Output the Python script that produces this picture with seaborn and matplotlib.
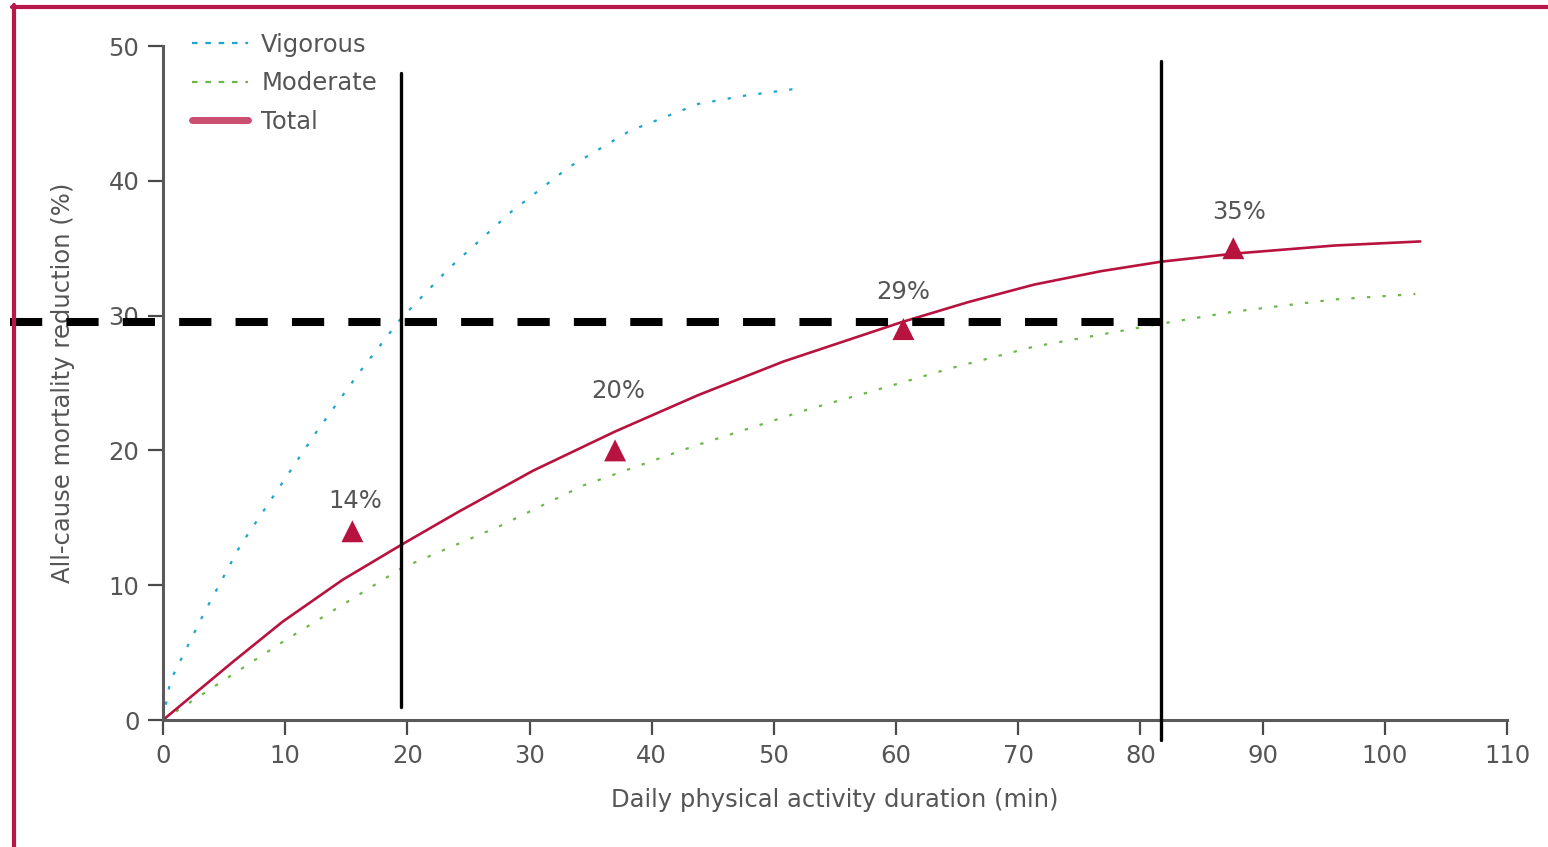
import matplotlib
matplotlib.use("Agg")
import matplotlib.pyplot as plt
from matplotlib.lines import Line2D
import seaborn as sns

sns.set_style("ticks")
plt.rcParams["font.family"] = ["DejaVu Sans"]
plt.rcParams["font.size"] = 17.5

# ==== Donnees ====
vig_x = [0, 0.6, 3.4, 6.3, 9.4, 12.5, 16.0, 19.4, 23.4, 28.5, 33.2, 38.2, 43.8, 47.5, 51.6]
vig_y = [0, 2.9, 8.0, 12.9, 17.1, 21.3, 25.7, 29.7, 33.5, 37.7, 41.0, 43.7, 45.7, 46.3, 46.8]

mod_x = [0, 9.8, 19.6, 27.6, 34.4, 43.4, 53.0, 57.7, 64.5, 71.3, 81.7, 87.7, 95.9, 102.5]
mod_y = [0, 5.8, 11.3, 14.4, 17.4, 20.3, 23.1, 24.3, 26.1, 27.7, 29.4, 30.3, 31.2, 31.6]

tot_x = [0, 5.7, 9.8, 14.7, 19.7, 24.1, 30.3, 37.0, 43.8, 50.8, 60.4, 65.9, 71.3,
         76.8, 81.7, 87.7, 95.9, 102.9]
tot_y = [0, 4.3, 7.3, 10.4, 13.1, 15.4, 18.5, 21.4, 24.1, 26.6, 29.5, 31.0, 32.3,
         33.3, 34.0, 34.6, 35.2, 35.5]

tri_x = [15.5, 37.0, 60.6, 87.6]
tri_y = [14, 20, 29, 35]

thresh_x = [19.5, 81.7]   # minutes
thresh_y = 29.5           # % reduction

x_ticks = list(range(0, 111, 10))
y_ticks = list(range(0, 51, 10))

# styles
CYAN = "#1ba5cf"
GREEN = "#6cb847"
CRIMSON = "#b8123f"
GREY = "#555555"
label_offsets = [(2, 22), (2, 43), (0, 27), (4, 26)]

fig = plt.figure(figsize=(15.48, 8.47), dpi=100)
ax = fig.add_axes([163 / 1548, 127 / 847, 1344 / 1548, 674 / 847])

dots = (0, (1.5, 5.5))
sns.lineplot(x=vig_x, y=vig_y, ax=ax, color=CYAN, lw=1.6, linestyle=dots,
             sort=False, estimator=None, label="Vigorous")
sns.lineplot(x=mod_x, y=mod_y, ax=ax, color=GREEN, lw=1.6, linestyle=dots,
             sort=False, estimator=None, label="Moderate")
sns.lineplot(x=tot_x, y=tot_y, ax=ax, color=CRIMSON, lw=1.9,
             sort=False, estimator=None, label="Total")

sns.scatterplot(x=tri_x, y=tri_y, ax=ax, marker="^", s=250, color=CRIMSON,
                edgecolor="none", zorder=5, legend=False)
for x, y, off in zip(tri_x, tri_y, label_offsets):
    ax.annotate(f"{y}%", (x, y), xytext=off, textcoords="offset points",
                ha="center", va="center", color=GREY, fontsize=17.5)

# lignes de seuil
ax.plot([thresh_x[0]] * 2, [1.0, 48.0], color="black", lw=2.4, clip_on=False, zorder=6)
ax.plot([thresh_x[1]] * 2, [-1.5, 48.9], color="black", lw=2.4, clip_on=False, zorder=6)
ax.plot([-12.5, thresh_x[1]], [thresh_y] * 2, color="black", lw=5.8,
        linestyle=(0, (4, 3)), clip_on=False, zorder=6, solid_capstyle="butt",
        dash_capstyle="butt")

ax.set_xlim(0, 110)
ax.set_ylim(0, 50)
ax.set_xticks(x_ticks)
ax.set_yticks(y_ticks)
sns.despine(ax=ax)
for side in ["left", "bottom"]:
    ax.spines[side].set_color("#5a5a5a")
    ax.spines[side].set_linewidth(2.2)
ax.tick_params(axis="both", direction="out", length=11, width=1.6,
               color="#4a4a4a", labelcolor=GREY, labelsize=17.5, pad=6)
ax.set_xlabel("Daily physical activity duration (min)", color=GREY,
              fontsize=17.5, labelpad=15)
ax.set_ylabel("All-cause mortality reduction (%)", color=GREY,
              fontsize=17.5, labelpad=24)

leg = ax.legend(loc="upper left", bbox_to_anchor=(0.0216, 1.02), frameon=False,
                fontsize=17.5, handlelength=2.3, handletextpad=0.55,
                labelspacing=0.6, borderpad=0, borderaxespad=0, labelcolor=GREY)
leg_lines = leg.get_lines()
leg_lines[0].set_linestyle((0, (2.5, 3.5)))
leg_lines[1].set_linestyle((0, (2.5, 3.5)))
leg_lines[2].set_linewidth(5)
leg_lines[2].set_alpha(0.75)

# cadre rouge (haut + gauche)
fig.add_artist(Line2D([14 / 1548, 14 / 1548], [0, 1 - 5 / 847],
                      transform=fig.transFigure, color="#b8174a", lw=3))
fig.add_artist(Line2D([12 / 1548, 1], [1 - 7 / 847, 1 - 7 / 847],
                      transform=fig.transFigure, color="#b8174a", lw=3))

fig.savefig("out.png", dpi=100)
plt.close(fig)
